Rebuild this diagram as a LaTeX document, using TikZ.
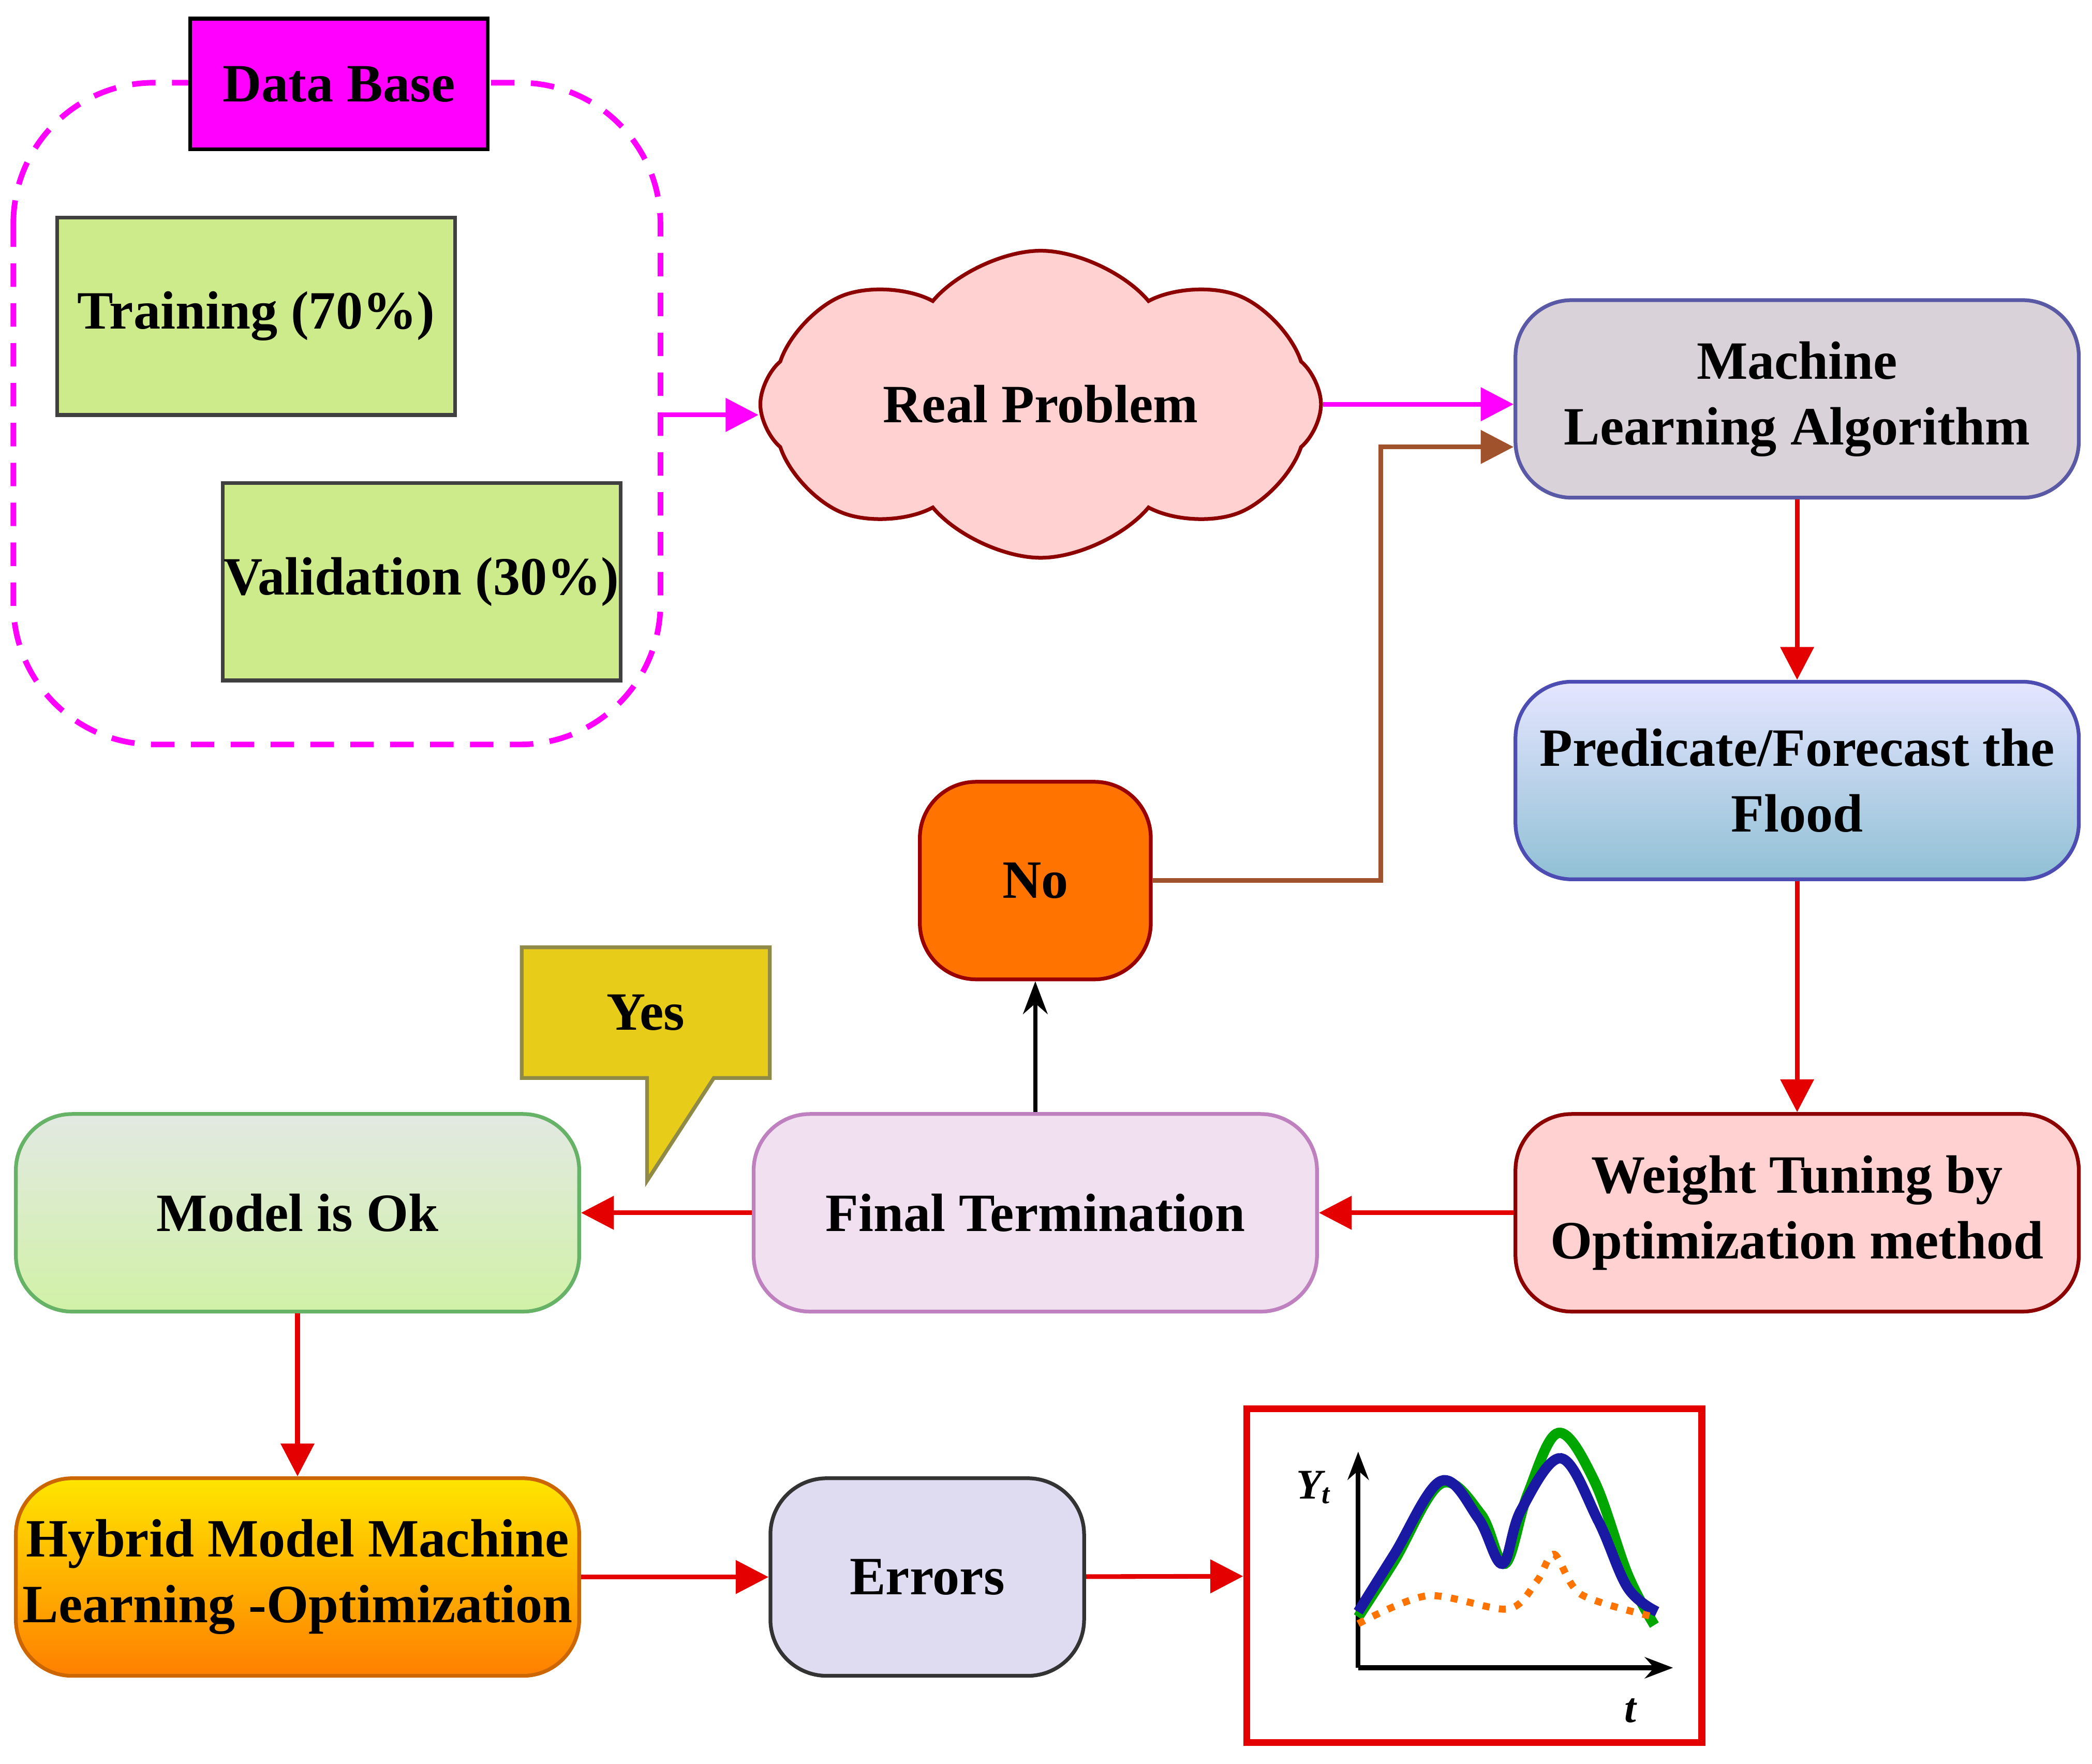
\documentclass[tikz,border=0pt]{standalone}
\usepackage{fontspec}
\setmainfont{Liberation Serif}
\usetikzlibrary{shapes.symbols,arrows.meta}
\definecolor{mag}{HTML}{FF00FF}
\definecolor{lgreen}{HTML}{CDEB8B}
\definecolor{brn}{HTML}{A0522D}
\tikzset{
  box/.style={draw, rounded corners=12pt, line width=0.8pt, align=center,
    font=\fontsize{11.5}{14}\selectfont\bfseries, inner sep=0pt},
  wide/.style={box, minimum width=4.22cm, minimum height=1.48cm},
  sq/.style={draw=black!75, line width=0.8pt, fill=lgreen, minimum width=2.98cm,
    minimum height=1.48cm, font=\fontsize{11.5}{14}\selectfont\bfseries, inner sep=0pt},
  red arr/.style={-{Triangle[length=7pt,width=7pt]}, red!90!black, line width=1pt},
  mag arr/.style={-{Triangle[length=7pt,width=7pt]}, mag, line width=1pt},
}
\begin{document}
\begin{tikzpicture}[x=0.01cm,y=-0.01cm]
\useasboundingbox (0,0) rectangle (1568,1322);
% data base group
\draw[mag, line width=1.2pt, dash pattern=on 5pt off 3.5pt, rounded corners=30pt]
  (10,62) rectangle (495,558);
\node[draw, line width=0.8pt, fill=mag, minimum width=2.23cm, minimum height=0.98cm,
  font=\fontsize{11.5}{14}\selectfont\bfseries] (db) at (254,63) {Data Base};
\node[sq] (train) at (192,237) {Training (70\%)};
\node[sq] (valid) at (316,436) {Validation (30\%)};
\coordinate (grp) at (495,311);
% cloud
\node[cloud, cloud puffs=8, cloud puff arc=100, aspect=2.2, draw=red!55!black, fill=red!18, line width=0.8pt,
  minimum width=4.2cm, minimum height=2.3cm, font=\fontsize{11.5}{14}\selectfont\bfseries]
  (real) at (780,303) {Real Problem};
% right column
\node[wide, fill=violet!18!gray!30, draw=blue!30!gray] (ml) at (1347,299) {Machine\\Learning Algorithm};
\node[wide, top color=blue!10, bottom color=blue!30!cyan!45!gray!60, draw=blue!40!gray] (pred) at (1347,585) {Predicate/Forecast the\\Flood};
\node[wide, fill=red!18, draw=red!55!black] (wt) at (1347,909) {Weight Tuning by\\Optimization method};
\node[wide, fill=violet!12, draw=violet!50] (fin) at (776,909) {Final Termination};
\node[wide, top color=green!12!gray!20, bottom color=green!40!gray!45!lime!40, draw=green!50!black!60] (ok) at (223,909) {Model is Ok};
\node[box, fill=orange!90!red, draw=red!60!black, minimum width=1.73cm, minimum height=1.48cm] (no) at (776,660) {No};
\node[wide, top color=yellow!80!orange, bottom color=orange, draw=orange!80!black] (hyb) at (223,1182) {Hybrid Model Machine\\Learning -Optimization};
\node[box, fill=cyan!12!blue!12, draw=black!80, minimum width=2.35cm, minimum height=1.48cm] (err) at (695,1182) {Errors};
% Yes callout
\draw[fill=yellow!80!orange!90!black, draw=yellow!50!black, line width=0.8pt]
  (391,710) -- (577,710) -- (577,808) -- (535,808) -- (485,885) -- (485,808) -- (391,808) -- cycle;
\node[font=\fontsize{11.5}{14}\selectfont\bfseries] (yes) at (484,759) {Yes};
% chart
\node[draw=red!90!black, line width=1.5pt, minimum width=3.41cm, minimum height=2.5cm] (chart) at (1105,1181) {};
\coordinate (o) at (1018,1250);
\coordinate (ytop) at (1018,1088);
\coordinate (xend) at (1254,1250);
\draw[-{Stealth[length=6pt]}, line width=1pt] (o) -- (ytop);
\draw[-{Stealth[length=6pt]}, line width=1pt] (o) -- (xend);
\node[font=\fontsize{9}{10}\selectfont\bfseries\itshape] (yl) at (985,1115) {Y\textsubscript{t}};
\node[font=\fontsize{9}{10}\selectfont\bfseries\itshape] (tl) at (1222,1282) {t};
\draw[green!65!black, line width=2.2pt] plot[smooth, tension=0.6] coordinates
  {(1018,1212) (1045,1170) (1080,1112) (1110,1135) (1128,1172) (1145,1120) (1168,1074) (1195,1110) (1220,1180) (1240,1218)};
\draw[blue!60!black!90, line width=2.2pt] plot[smooth, tension=0.6] coordinates
  {(1018,1208) (1045,1165) (1080,1110) (1108,1138) (1126,1172) (1140,1132) (1170,1093) (1198,1140) (1220,1190) (1242,1208)};
\draw[orange!90!red, line width=1.5pt, dotted] plot[smooth] coordinates
  {(1018,1217) (1070,1196) (1130,1206) (1152,1185) (1165,1165) (1185,1195) (1240,1212)};
% connectors
\draw[mag arr] (grp) -- (real.west |- grp);
\draw[mag arr] (real.east) -- (ml.west |- real.east);
\draw[-{Triangle[length=7pt,width=7pt]}, brn, line width=1pt]
  (no.east) -- (1035,660) -- (1035,335) -- (ml.west |- 0,335);
\draw[red arr] (ml) -- (pred);
\draw[red arr] (pred) -- (wt);
\draw[red arr] (wt) -- (fin);
\draw[red arr] (fin) -- (ok);
\draw[red arr] (ok) -- (hyb);
\draw[red arr] (hyb) -- (err);
\draw[red arr] (err) -- (chart);
\draw[-{Stealth[length=7pt]}, line width=0.8pt] (fin) -- (no);
\end{tikzpicture}
\end{document}
